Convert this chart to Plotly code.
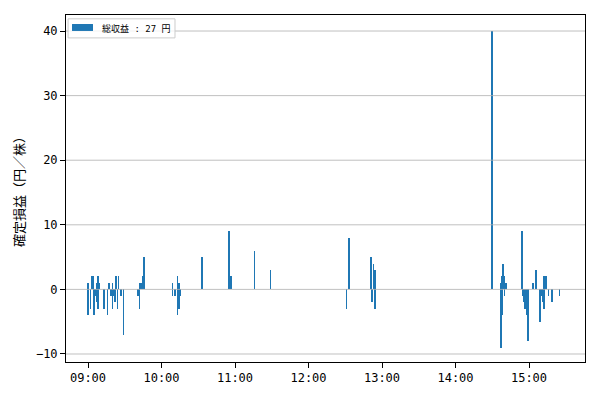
import plotly.graph_objects as go

DAY = "2024-01-01 "

# trade close times (HH:MM) and realized P/L per share (yen)
times = [
    "09:00", "09:00", "09:02", "09:03", "09:04", "09:05", "09:06", "09:07", "09:07",
    "09:08", "09:08", "09:09", "09:13", "09:16", "09:17", "09:19", "09:20", "09:20",
    "09:21", "09:22", "09:23", "09:24", "09:25", "09:25", "09:27", "09:29",
    "09:41", "09:42", "09:42", "09:43", "09:44", "09:45", "09:46",
    "10:09", "10:09", "10:11", "10:13", "10:13", "10:14", "10:14", "10:15",
    "10:33", "10:55", "10:57", "11:16", "11:29",
    "12:31", "12:33", "12:51", "12:52", "12:53", "12:54", "12:54",
    "14:30", "14:37", "14:37", "14:38", "14:38", "14:39", "14:40", "14:40", "14:41",
    "14:54", "14:55", "14:56", "14:57", "14:58", "14:58", "14:59",
    "15:03", "15:06", "15:09", "15:10", "15:11", "15:11", "15:12", "15:12",
    "15:14", "15:16", "15:19", "15:25",
]
values = [
    1, -4, -3, 2, 2, -4, -1, -2, 1,
    2, -3, 1, -3, -4, 1, -1, 1, -3,
    -1, -2, 2, -3, 2, 2, -1, -7,
    -1, 1, -3, 1, 1, 2, 5,
    -1, 1, -1, 2, -4, 1, -3, -1,
    5, 9, 2, 6, 3,
    -3, 8, 5, -2, 4, 3, -3,
    40, -9, 1, 2, -4, 4, 2, -1, 1,
    9, -1, -2, -3, -4, -4, -8,
    1, 3, -5, -1, -1, -2, -3, 2,
    2, -1, -2, -1,
]

x_ticks = ["09:00", "10:00", "11:00", "12:00", "13:00", "14:00", "15:00"]
y_ticks = [-10, 0, 10, 20, 30, 40]
x_range = ["08:42:02", "15:45:43"]
y_range = [-11.24, 42.48]

legend_label = "総収益 : 27 円"
y_title = "確定損益（円／株）"

BLUE = "#1f77b4"
GRID = "#b0b0b0"
MONO = "DejaVu Sans Mono, Noto Sans CJK JP"

fig = go.Figure()
fig.add_trace(go.Bar(
    x=[DAY + t for t in times],
    y=values,
    width=36000,
    marker=dict(color=BLUE, line=dict(width=0)),
    name=legend_label,
    showlegend=False,
))

for v in y_ticks:
    fig.add_shape(type="line", xref="paper", x0=0, x1=1, yref="y", y0=v, y1=v,
                  line=dict(color=GRID, width=0.8), layer="above")

# manual matplotlib-style legend
fig.add_shape(type="rect", xref="paper", yref="paper", x0=0.004, x1=0.21, y0=0.934, y1=0.989,
              line=dict(color="#cccccc", width=1), fillcolor="rgba(255,255,255,0.8)", layer="above")
fig.add_shape(type="rect", xref="paper", yref="paper", x0=0.0116, x1=0.052, y0=0.954, y1=0.974,
              line=dict(width=0), fillcolor=BLUE, layer="above")
fig.add_annotation(xref="paper", yref="paper", x=0.0655, y=0.9625, xanchor="left", yanchor="middle",
                   text=legend_label, showarrow=False,
                   font=dict(family=MONO, size=9, color="black"))

fig.update_layout(
    width=592, height=392,
    margin=dict(l=58, r=15, t=7, b=38, autoexpand=False),
    plot_bgcolor="white", paper_bgcolor="white",
    barmode="overlay",
    bargap=0,
    font=dict(family=MONO, size=12, color="black"),
    xaxis=dict(
        type="date",
        range=[DAY + x_range[0], DAY + x_range[1]],
        tickvals=[DAY + t for t in x_ticks],
        ticktext=x_ticks,
        ticks="outside", ticklen=5, tickcolor="black",
        showline=True, linecolor="black", linewidth=1, mirror=True,
        showgrid=False, zeroline=False,
        tickfont=dict(family=MONO, size=12),
    ),
    yaxis=dict(
        range=y_range,
        tickvals=y_ticks,
        ticks="outside", ticklen=5, tickcolor="black",
        showline=True, linecolor="black", linewidth=1, mirror=True,
        showgrid=False, zeroline=False,
        tickfont=dict(family=MONO, size=12),
        title=dict(text=y_title, font=dict(family="Noto Sans CJK JP", size=13), standoff=8),
    ),
)

fig.write_html("out.html")
